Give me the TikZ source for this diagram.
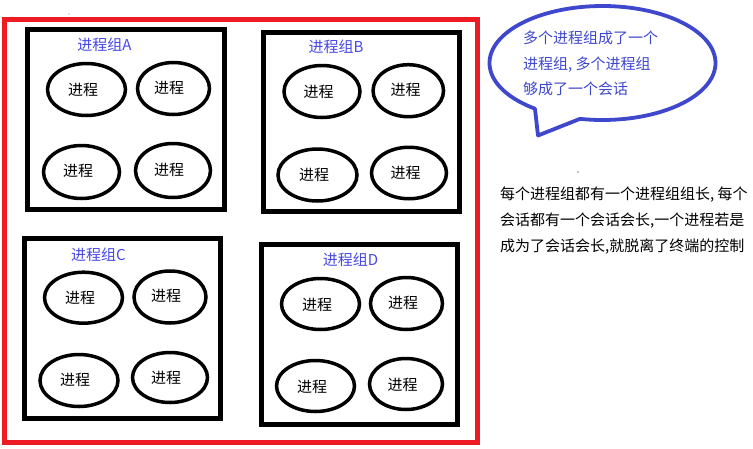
\documentclass[tikz,border=0pt]{standalone}
\usepackage{fontspec}
\setmainfont{Noto Sans CJK SC}
\usetikzlibrary{shapes.geometric}
\definecolor{paintred}{RGB}{237,28,36}
\definecolor{bubblecol}{RGB}{63,72,204}
\definecolor{labelcol}{RGB}{72,72,230}
\tikzset{
  proc/.style={ellipse, draw=black, line width=3.5pt, inner sep=0pt},
  proctext/.style={inner sep=0pt, font=\fontsize{15}{15}\selectfont, text=black},
  grplabel/.style={inner sep=0pt, font=\fontsize{15}{15}\selectfont, text=labelcol},
  grpbox/.style={draw=black, line width=5pt},
  outerbox/.style={draw=paintred, line width=5pt},
  bubble/.style={draw=bubblecol, line width=3.8pt, line join=round},
}
\newcommand{\procnode}[7]{%
  \node[proc, minimum width=#4pt, minimum height=#5pt] (#1) at (#2,#3) {};
  \node[proctext] (#1t) at (#6,#7) {进程};
}
\begin{document}
\begin{tikzpicture}[x=1pt,y=-1pt]
\useasboundingbox (0,0) rectangle (753,448);
\fill[white] (0,0) rectangle (753,448);

% outer red frame
\draw[outerbox] (4.5,19.5) rectangle (477.5,442.5);

% group boxes
\draw[grpbox] (27.5,29) rectangle (224,209);
\draw[grpbox] (263.5,32) rectangle (459,211.5);
\draw[grpbox] (24,238) rectangle (220,418);
\draw[grpbox] (261.5,244) rectangle (457.5,424);

% group labels
\node[grplabel] (labA) at (104.5,45) {进程组A};
\node[grplabel] (labB) at (336,47) {进程组B};
\node[grplabel] (labC) at (98.5,255) {进程组C};
\node[grplabel] (labD) at (350.5,260) {进程组D};

% processes A
\procnode{a1}{86.5}{89.5}{78}{52}{83}{89.5}
\procnode{a2}{173.5}{88.5}{72}{52}{169}{88}
\procnode{a3}{81.5}{172}{76}{53}{78}{171}
\procnode{a4}{173}{170.5}{75}{54}{169}{170}
% processes B
\procnode{b1}{322}{91.5}{76}{52}{318.5}{92}
\procnode{b2}{408.3}{90.7}{70.5}{52}{405.5}{90}
\procnode{b3}{317.5}{175}{79}{52}{314}{175}
\procnode{b4}{409}{173}{75}{51.5}{405.5}{173}
% processes C
\procnode{c1}{83.5}{297.7}{78}{51}{80}{298}
\procnode{c2}{170}{297}{72}{52}{166}{296}
\procnode{c3}{79}{380.5}{78}{52}{75}{380}
\procnode{c4}{170}{377.5}{75}{50}{166}{378}
% processes D
\procnode{d1}{320.5}{304}{78}{51}{317}{305}
\procnode{d2}{406.5}{303.5}{72}{52}{403}{303}
\procnode{d3}{315.5}{386}{78}{51}{312}{387}
\procnode{d4}{406}{384}{73}{51}{402.5}{385}

% speech bubble
\draw[bubble] plot[domain=126.7:461.5, samples=160, smooth]
   ({602.5+113*cos(\x)},{63+57*sin(\x)}) -- (538,135.5) -- cycle;
\node[inner sep=0pt, anchor=west, align=left, text=bubblecol,
      font=\fontsize{15}{25.5}\selectfont] (bubbletext) at (523,63.5)
  {多个进程组成了一个\\进程组, 多个进程组\\够成了一个会话};

% explanation text
\node[inner sep=0pt, anchor=west, align=left, text=black,
      font=\fontsize{15}{26}\selectfont] (note) at (500,221)
  {每个进程组都有一个进程组组长, 每个\\会话都有一个会话会长,一个进程若是\\成为了会话会长,就脱离了终端的控制};

% specks
\fill[gray] (69,14) circle (0.6);
\fill[black] (578,172) circle (0.7);
\end{tikzpicture}
\end{document}
